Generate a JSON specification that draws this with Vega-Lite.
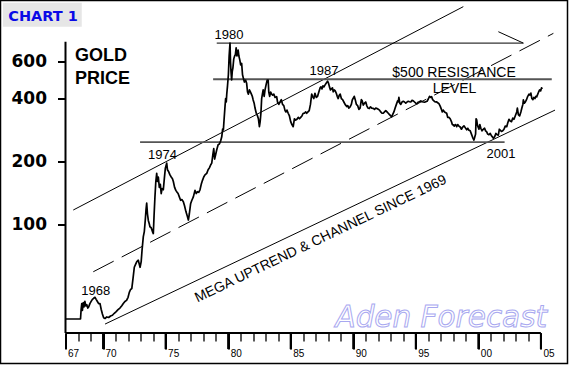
{
  "$schema": "https://vega.github.io/schema/vega-lite/v6.json",
  "width": 567,
  "height": 363,
  "autosize": {"type": "none"},
  "padding": {"left": 0.5, "top": 0.5, "right": 2.5, "bottom": 3.5},
  "background": "white",
  "config": {"view": {"stroke": "black", "strokeWidth": 1.5}, "axis": {"grid": false, "ticks": true}},
  "datasets": {
    "gold": [
      {"year":1967.00,"price":35},{"year":1967.60,"price":35},{"year":1968.20,"price":35},{"year":1968.25,"price":39},{"year":1968.30,"price":41.5},{"year":1968.35,"price":38.5},{"year":1968.42,"price":42},{"year":1968.48,"price":40},{"year":1968.55,"price":42.5},{"year":1968.62,"price":40.5},{"year":1968.70,"price":41},{"year":1968.78,"price":39.5},{"year":1968.85,"price":40},{"year":1968.95,"price":41.5},
      {"year":1969.05,"price":42.5},{"year":1969.15,"price":43.5},{"year":1969.25,"price":44},{"year":1969.36,"price":44.5},{"year":1969.45,"price":43.5},{"year":1969.55,"price":42.5},{"year":1969.65,"price":41.5},{"year":1969.76,"price":41.5},{"year":1969.85,"price":39},{"year":1969.95,"price":37},
      {"year":1970.05,"price":35.5},{"year":1970.16,"price":35.2},{"year":1970.30,"price":35.8},{"year":1970.45,"price":35.6},{"year":1970.60,"price":36.2},{"year":1970.75,"price":36.5},{"year":1970.90,"price":37.3},
      {"year":1971.05,"price":38},{"year":1971.20,"price":38.8},{"year":1971.35,"price":39.5},{"year":1971.50,"price":40.5},{"year":1971.62,"price":41.5},{"year":1971.75,"price":42.5},{"year":1971.88,"price":43},
      {"year":1972.00,"price":44.5},{"year":1972.10,"price":47},{"year":1972.20,"price":48.5},{"year":1972.30,"price":49},{"year":1972.40,"price":55},{"year":1972.50,"price":62},{"year":1972.60,"price":64},{"year":1972.70,"price":66},{"year":1972.82,"price":67},{"year":1972.90,"price":64},{"year":1972.96,"price":62},
      {"year":1973.05,"price":66},{"year":1973.12,"price":75},{"year":1973.22,"price":87},{"year":1973.30,"price":92},{"year":1973.38,"price":105},{"year":1973.44,"price":118},{"year":1973.49,"price":126},{"year":1973.55,"price":112},{"year":1973.62,"price":104},{"year":1973.70,"price":100},{"year":1973.75,"price":97},{"year":1973.85,"price":96},{"year":1973.95,"price":92},
      {"year":1974.02,"price":90},{"year":1974.08,"price":110},{"year":1974.15,"price":135},{"year":1974.22,"price":160},{"year":1974.29,"price":175},{"year":1974.35,"price":160},{"year":1974.42,"price":168},{"year":1974.50,"price":150},{"year":1974.58,"price":155},{"year":1974.65,"price":140},{"year":1974.72,"price":148},{"year":1974.82,"price":146},{"year":1974.90,"price":165},{"year":1974.98,"price":185},
      {"year":1975.09,"price":196},{"year":1975.15,"price":182},{"year":1975.25,"price":178},{"year":1975.35,"price":172},{"year":1975.45,"price":168},{"year":1975.55,"price":165},{"year":1975.62,"price":160},{"year":1975.72,"price":150},{"year":1975.82,"price":145},{"year":1975.92,"price":142},
      {"year":1976.00,"price":140},{"year":1976.10,"price":135},{"year":1976.20,"price":130},{"year":1976.30,"price":131},{"year":1976.42,"price":128},{"year":1976.52,"price":122},{"year":1976.62,"price":115},{"year":1976.72,"price":110},{"year":1976.82,"price":104.5},{"year":1976.90,"price":112},
      {"year":1977.00,"price":125},{"year":1977.10,"price":130},{"year":1977.22,"price":135},{"year":1977.35,"price":145},{"year":1977.45,"price":140},{"year":1977.55,"price":143},{"year":1977.65,"price":142},{"year":1977.75,"price":146},{"year":1977.85,"price":155},{"year":1977.95,"price":162},
      {"year":1978.05,"price":168},{"year":1978.15,"price":172},{"year":1978.29,"price":175},{"year":1978.40,"price":182},{"year":1978.50,"price":186},{"year":1978.60,"price":192},{"year":1978.69,"price":196},{"year":1978.78,"price":215},{"year":1978.85,"price":230},{"year":1978.92,"price":205},
      {"year":1979.00,"price":215},{"year":1979.09,"price":227},{"year":1979.20,"price":240},{"year":1979.30,"price":242},{"year":1979.40,"price":250},{"year":1979.49,"price":262},{"year":1979.56,"price":285},{"year":1979.62,"price":283},{"year":1979.68,"price":320},{"year":1979.75,"price":366},{"year":1979.80,"price":400},{"year":1979.85,"price":385},{"year":1979.89,"price":420},{"year":1979.95,"price":460},
      {"year":1980.02,"price":520},{"year":1980.08,"price":640},{"year":1980.15,"price":738},{"year":1980.19,"price":600},{"year":1980.23,"price":540},{"year":1980.28,"price":491},{"year":1980.33,"price":540},{"year":1980.38,"price":560},{"year":1980.45,"price":620},{"year":1980.52,"price":640},{"year":1980.58,"price":650},{"year":1980.64,"price":700},{"year":1980.70,"price":640},{"year":1980.76,"price":660},{"year":1980.80,"price":684},{"year":1980.86,"price":640},{"year":1980.94,"price":610},
      {"year":1981.00,"price":580},{"year":1981.08,"price":590},{"year":1981.15,"price":520},{"year":1981.22,"price":500},{"year":1981.30,"price":480},{"year":1981.40,"price":490},{"year":1981.48,"price":473},{"year":1981.55,"price":430},{"year":1981.62,"price":420},{"year":1981.70,"price":440},{"year":1981.78,"price":430},{"year":1981.86,"price":420},{"year":1981.93,"price":410},
      {"year":1982.00,"price":394},{"year":1982.08,"price":380},{"year":1982.15,"price":360},{"year":1982.25,"price":340},{"year":1982.35,"price":330},{"year":1982.42,"price":320},{"year":1982.50,"price":293},{"year":1982.56,"price":310},{"year":1982.62,"price":340},{"year":1982.68,"price":400},{"year":1982.74,"price":420},{"year":1982.80,"price":440},{"year":1982.88,"price":410},{"year":1982.95,"price":440},
      {"year":1983.05,"price":470},{"year":1983.12,"price":490},{"year":1983.20,"price":491},{"year":1983.25,"price":430},{"year":1983.32,"price":410},{"year":1983.40,"price":430},{"year":1983.48,"price":420},{"year":1983.56,"price":415},{"year":1983.65,"price":420},{"year":1983.75,"price":405},{"year":1983.88,"price":408},{"year":1983.95,"price":385},
      {"year":1984.05,"price":375},{"year":1984.15,"price":385},{"year":1984.25,"price":395},{"year":1984.35,"price":375},{"year":1984.45,"price":370},{"year":1984.55,"price":350},{"year":1984.62,"price":345},{"year":1984.70,"price":352},{"year":1984.80,"price":340},{"year":1984.90,"price":330},
      {"year":1985.00,"price":310},{"year":1985.10,"price":300},{"year":1985.20,"price":293},{"year":1985.30,"price":320},{"year":1985.40,"price":315},{"year":1985.50,"price":318},{"year":1985.60,"price":325},{"year":1985.70,"price":320},{"year":1985.80,"price":325},{"year":1985.90,"price":330},
      {"year":1986.00,"price":340},{"year":1986.10,"price":340},{"year":1986.20,"price":345},{"year":1986.28,"price":340},{"year":1986.38,"price":345},{"year":1986.48,"price":350},{"year":1986.58,"price":375},{"year":1986.68,"price":420},{"year":1986.75,"price":410},{"year":1986.85,"price":400},{"year":1986.94,"price":424},
      {"year":1987.05,"price":405},{"year":1987.15,"price":410},{"year":1987.25,"price":430},{"year":1987.35,"price":450},{"year":1987.42,"price":455},{"year":1987.50,"price":445},{"year":1987.58,"price":460},{"year":1987.66,"price":455},{"year":1987.75,"price":465},{"year":1987.85,"price":475},{"year":1987.95,"price":485},
      {"year":1988.02,"price":475},{"year":1988.10,"price":455},{"year":1988.18,"price":440},{"year":1988.26,"price":445},{"year":1988.34,"price":450},{"year":1988.40,"price":431},{"year":1988.48,"price":440},{"year":1988.56,"price":435},{"year":1988.64,"price":425},{"year":1988.72,"price":410},{"year":1988.80,"price":400},{"year":1988.88,"price":415},{"year":1988.96,"price":420},
      {"year":1989.05,"price":400},{"year":1989.15,"price":395},{"year":1989.25,"price":385},{"year":1989.35,"price":375},{"year":1989.48,"price":366},{"year":1989.56,"price":370},{"year":1989.65,"price":360},{"year":1989.75,"price":365},{"year":1989.85,"price":375},{"year":1989.93,"price":395},
      {"year":1990.00,"price":401},{"year":1990.08,"price":410},{"year":1990.16,"price":395},{"year":1990.25,"price":375},{"year":1990.35,"price":370},{"year":1990.45,"price":355},{"year":1990.55,"price":360},{"year":1990.65,"price":395},{"year":1990.72,"price":390},{"year":1990.80,"price":372},{"year":1990.90,"price":380},
      {"year":1991.00,"price":385},{"year":1991.08,"price":370},{"year":1991.18,"price":360},{"year":1991.28,"price":358},{"year":1991.38,"price":365},{"year":1991.48,"price":360},{"year":1991.60,"price":359},{"year":1991.70,"price":355},{"year":1991.80,"price":360},{"year":1991.90,"price":358},
      {"year":1992.00,"price":355},{"year":1992.10,"price":352},{"year":1992.20,"price":345},{"year":1992.30,"price":340},{"year":1992.40,"price":340},{"year":1992.50,"price":345},{"year":1992.60,"price":350},{"year":1992.70,"price":345},{"year":1992.80,"price":340},{"year":1992.90,"price":335},
      {"year":1993.00,"price":330},{"year":1993.07,"price":327},{"year":1993.15,"price":335},{"year":1993.25,"price":345},{"year":1993.35,"price":360},{"year":1993.45,"price":375},{"year":1993.55,"price":390},{"year":1993.60,"price":386},{"year":1993.65,"price":405},{"year":1993.72,"price":380},{"year":1993.80,"price":375},{"year":1993.90,"price":385},
      {"year":1994.00,"price":388},{"year":1994.10,"price":385},{"year":1994.20,"price":380},{"year":1994.30,"price":385},{"year":1994.40,"price":388},{"year":1994.50,"price":386},{"year":1994.60,"price":385},{"year":1994.70,"price":392},{"year":1994.80,"price":390},{"year":1994.90,"price":385},
      {"year":1995.00,"price":380},{"year":1995.10,"price":378},{"year":1995.20,"price":385},{"year":1995.30,"price":386},{"year":1995.40,"price":390},{"year":1995.50,"price":386},{"year":1995.60,"price":385},{"year":1995.70,"price":384},{"year":1995.80,"price":386},{"year":1995.90,"price":388},
      {"year":1996.00,"price":398},{"year":1996.10,"price":410},{"year":1996.20,"price":405},{"year":1996.27,"price":408},{"year":1996.35,"price":395},{"year":1996.45,"price":390},{"year":1996.55,"price":385},{"year":1996.65,"price":386},{"year":1996.75,"price":382},{"year":1996.85,"price":378},{"year":1996.95,"price":368},
      {"year":1997.05,"price":355},{"year":1997.12,"price":345},{"year":1997.20,"price":352},{"year":1997.30,"price":345},{"year":1997.40,"price":342},{"year":1997.47,"price":340},{"year":1997.55,"price":325},{"year":1997.65,"price":325},{"year":1997.75,"price":320},{"year":1997.85,"price":310},{"year":1997.92,"price":300},
      {"year":1998.00,"price":299},{"year":1998.08,"price":295},{"year":1998.16,"price":300},{"year":1998.22,"price":298},{"year":1998.27,"price":293},{"year":1998.35,"price":300},{"year":1998.45,"price":295},{"year":1998.55,"price":292},{"year":1998.65,"price":285},{"year":1998.75,"price":292},{"year":1998.85,"price":296},{"year":1998.95,"price":290},
      {"year":1999.07,"price":283},{"year":1999.15,"price":288},{"year":1999.25,"price":282},{"year":1999.35,"price":280},{"year":1999.45,"price":270},{"year":1999.55,"price":260},{"year":1999.65,"price":253},{"year":1999.72,"price":262},{"year":1999.78,"price":270},{"year":1999.82,"price":320},{"year":1999.87,"price":316},{"year":1999.92,"price":300},{"year":1999.98,"price":292},
      {"year":2000.05,"price":285},{"year":2000.12,"price":300},{"year":2000.20,"price":288},{"year":2000.30,"price":280},{"year":2000.40,"price":285},{"year":2000.50,"price":288},{"year":2000.58,"price":280},{"year":2000.67,"price":277},{"year":2000.75,"price":270},{"year":2000.85,"price":268},{"year":2000.95,"price":272},
      {"year":2001.05,"price":265},{"year":2001.12,"price":262},{"year":2001.20,"price":258},{"year":2001.30,"price":262},{"year":2001.40,"price":272},{"year":2001.50,"price":268},{"year":2001.60,"price":267},{"year":2001.68,"price":285},{"year":2001.75,"price":282},{"year":2001.85,"price":278},{"year":2001.95,"price":280},
      {"year":2002.05,"price":285},{"year":2002.15,"price":295},{"year":2002.27,"price":293},{"year":2002.35,"price":305},{"year":2002.45,"price":318},{"year":2002.55,"price":312},{"year":2002.65,"price":310},{"year":2002.75,"price":322},{"year":2002.85,"price":318},{"year":2002.95,"price":330},
      {"year":2003.07,"price":345},{"year":2003.12,"price":360},{"year":2003.20,"price":335},{"year":2003.30,"price":330},{"year":2003.40,"price":345},{"year":2003.48,"price":360},{"year":2003.56,"price":375},{"year":2003.60,"price":394},{"year":2003.68,"price":380},{"year":2003.76,"price":385},{"year":2003.85,"price":395},{"year":2003.95,"price":410},
      {"year":2004.05,"price":420},{"year":2004.13,"price":416},{"year":2004.20,"price":425},{"year":2004.28,"price":400},{"year":2004.36,"price":395},{"year":2004.44,"price":405},{"year":2004.52,"price":400},{"year":2004.60,"price":410},{"year":2004.67,"price":408},{"year":2004.75,"price":420},{"year":2004.82,"price":430},{"year":2004.90,"price":440},{"year":2004.98,"price":435},{"year":2005.05,"price":450},{"year":2005.12,"price":445}
    ],
    "majorTicks": [
      {"year":1970},{"year":1975},{"year":1980},{"year":1985},{"year":1990},{"year":1995},{"year":2000},{"year":2005}
    ],
    "guides": [
      {"name":"upper","year":1967.62,"price":116.7},{"name":"upper","year":1998.8,"price":1104},
      {"name":"lower","year":1970.16,"price":33.1},{"name":"lower","year":2006.13,"price":352},
      {"name":"arrow","year":2001.6,"price":837},{"name":"arrow","year":2003.6,"price":738},
      {"name":"top","year":1979.09,"price":738},{"name":"top","year":2003.6,"price":738},
      {"name":"mid","year":1969.22,"price":59},{"name":"mid","year":2006.0,"price":822},
      {"name":"res500","year":1978.8,"price":495},{"name":"res500","year":2005.87,"price":495},
      {"name":"support","year":1972.96,"price":247},{"name":"support","year":2002.1,"price":247}
    ],
    "notes": [
      {"kind":"year","label":"1968","year":1969.42,"price":45.4},
      {"kind":"year","label":"1974","year":1974.75,"price":205},
      {"kind":"year","label":"1980","year":1980.07,"price":776},
      {"kind":"year","label":"1987","year":1987.66,"price":519},
      {"kind":"year","label":"2001","year":2001.81,"price":207},
      {"kind":"res","label":"$500 RESISTANCE","year":1998.06,"price":510},
      {"kind":"res","label":"LEVEL","year":1998.1,"price":424},
      {"kind":"title","label":"GOLD","year":1967.76,"price":605},
      {"kind":"title","label":"PRICE","year":1967.76,"price":470},
      {"kind":"mega","label":"MEGA UPTREND & CHANNEL SINCE 1969","year":1987.54,"price":81.4},
      {"kind":"brand","label":"Aden Forecast","year":2005.5,"price":32.1},
      {"kind":"chart","label":"CHART 1","year":1962.43,"price":945}
    ]
  },
  "layer": [
    {
      "data": {"values": [{}]},
      "mark": {"type": "rect", "color": "#e6e6e6"},
      "encoding": {
        "x": {"datum": 1962.0, "type": "quantitative", "scale": {"domain": [1961.804, 2007.128], "nice": false, "zero": false}, "axis": null},
        "x2": {"datum": 1968.3},
        "y": {"datum": 1153, "type": "quantitative", "scale": {"type": "log", "domain": [21.41, 1181.7], "nice": false}, "axis": null},
        "y2": {"datum": 884.7}
      }
    },
    {
      "data": {"name": "guides"},
      "transform": [{"filter": "datum.name == 'upper' || datum.name == 'lower' || datum.name == 'arrow' || datum.name == 'top'"}],
      "mark": {"type": "line", "color": "black", "strokeWidth": 1},
      "encoding": {
        "x": {"field": "year", "type": "quantitative", "scale": {"domain": [1961.804, 2007.128], "nice": false, "zero": false},
          "axis": {"orient": "bottom", "offset": -30.5, "values": [1967,1968,1969,1970,1971,1972,1973,1974,1975,1976,1977,1978,1979,1980,1981,1982,1983,1984,1985,1986,1987,1988,1989,1990,1991,1992,1993,1994,1995,1996,1997,1998,1999,2000,2001,2002,2003,2004,2005], "domain": false, "grid": false, "ticks": true, "tickSize": 8, "tickWidth": 1.3, "tickColor": "black", "labels": false, "title": null}},
        "y": {"field": "price", "type": "quantitative", "scale": {"type": "log", "domain": [21.41, 1181.7], "nice": false}, "axis": null},
        "detail": {"field": "name"}
      }
    },
    {
      "data": {"name": "guides"},
      "transform": [{"filter": "datum.name == 'mid'"}],
      "mark": {"type": "line", "color": "black", "strokeWidth": 1, "strokeDash": [23, 9]},
      "encoding": {
        "x": {"field": "year", "type": "quantitative", "scale": {"domain": [1961.804, 2007.128], "nice": false, "zero": false}, "axis": null},
        "y": {"field": "price", "type": "quantitative", "scale": {"type": "log", "domain": [21.41, 1181.7], "nice": false}, "axis": null}
      }
    },
    {
      "data": {"name": "guides"},
      "transform": [{"filter": "datum.name == 'res500' || datum.name == 'support'"}],
      "mark": {"type": "line", "color": "#555555", "strokeWidth": 1.8},
      "encoding": {
        "x": {"field": "year", "type": "quantitative", "scale": {"domain": [1961.804, 2007.128], "nice": false, "zero": false}, "axis": null},
        "y": {"field": "price", "type": "quantitative", "scale": {"type": "log", "domain": [21.41, 1181.7], "nice": false}, "axis": null},
        "detail": {"field": "name"}
      }
    },
    {
      "data": {"name": "majorTicks"},
      "mark": {"type": "rule", "color": "black", "strokeWidth": 2},
      "encoding": {
        "x": {"field": "year", "type": "quantitative", "scale": {"domain": [1961.804, 2007.128], "nice": false, "zero": false}, "axis": null},
        "y": {"datum": 30, "type": "quantitative", "scale": {"type": "log", "domain": [21.41, 1181.7], "nice": false}, "axis": null},
        "y2": {"datum": 25.1}
      }
    },
    {
      "data": {"values": [{}]},
      "mark": {"type": "rule", "color": "black", "strokeWidth": 2},
      "encoding": {
        "x": {"datum": 1967, "type": "quantitative", "scale": {"domain": [1961.804, 2007.128], "nice": false, "zero": false}, "axis": null},
        "x2": {"datum": 2005},
        "y": {"datum": 30, "type": "quantitative", "scale": {"type": "log", "domain": [21.41, 1181.7], "nice": false}, "axis": null}
      }
    },
    {
      "data": {"values": [{}]},
      "mark": {"type": "rule", "color": "black", "strokeWidth": 2},
      "encoding": {
        "x": {"datum": 1967, "type": "quantitative", "scale": {"domain": [1961.804, 2007.128], "nice": false, "zero": false}, "axis": null},
        "y": {"datum": 30, "type": "quantitative", "scale": {"type": "log", "domain": [21.41, 1181.7], "nice": false},
          "axis": {"orient": "left", "offset": -65, "values": [100, 200, 400, 600], "format": "d", "domain": false, "grid": false, "tickSize": 8, "tickWidth": 2, "tickColor": "black", "labelFont": "DejaVu Sans", "labelFontWeight": "bold", "labelFontSize": 17, "labelColor": "black", "labelPadding": 11, "labelOverlap": false, "labelBound": false, "labelFlush": false, "title": null}},
        "y2": {"datum": 750}
      }
    },
    {
      "data": {"name": "gold"},
      "mark": {"type": "line", "color": "black", "strokeWidth": 1.7, "strokeJoin": "round"},
      "encoding": {
        "x": {"field": "year", "type": "quantitative", "scale": {"domain": [1961.804, 2007.128], "nice": false, "zero": false},
          "axis": {"orient": "bottom", "offset": -30.5, "values": [1967,1970,1975,1980,1985,1990,1995,2000,2005], "domain": false, "grid": false, "ticks": true, "tickSize": 16, "tickWidth": 2, "tickColor": "black",
            "labelExpr": "substring(toString(datum.value), 2, 4)", "labelAlign": "left", "labelBaseline": "top", "labelOffset": 2, "labelPadding": -1,
            "labelFont": "Liberation Sans", "labelFontSize": 10, "labelColor": "black", "labelOverlap": false, "labelFlush": false, "labelBound": false, "title": null}},
        "y": {"field": "price", "type": "quantitative", "scale": {"type": "log", "domain": [21.41, 1181.7], "nice": false}, "axis": null}
      }
    },
    {
      "data": {"name": "notes"},
      "transform": [{"filter": "datum.kind == 'year'"}],
      "mark": {"type": "text", "font": "Liberation Sans", "fontSize": 13, "align": "center", "baseline": "alphabetic", "color": "black"},
      "encoding": {
        "x": {"field": "year", "type": "quantitative", "scale": {"domain": [1961.804, 2007.128], "nice": false, "zero": false}, "axis": null},
        "y": {"field": "price", "type": "quantitative", "scale": {"type": "log", "domain": [21.41, 1181.7], "nice": false}, "axis": null},
        "text": {"field": "label"}
      }
    },
    {
      "data": {"name": "notes"},
      "transform": [{"filter": "datum.kind == 'res'"}],
      "mark": {"type": "text", "font": "Liberation Sans", "fontSize": 14, "align": "center", "baseline": "alphabetic", "color": "black"},
      "encoding": {
        "x": {"field": "year", "type": "quantitative", "scale": {"domain": [1961.804, 2007.128], "nice": false, "zero": false}, "axis": null},
        "y": {"field": "price", "type": "quantitative", "scale": {"type": "log", "domain": [21.41, 1181.7], "nice": false}, "axis": null},
        "text": {"field": "label"}
      }
    },
    {
      "data": {"name": "notes"},
      "transform": [{"filter": "datum.kind == 'title'"}],
      "mark": {"type": "text", "font": "Liberation Sans", "fontSize": 18, "fontWeight": "bold", "align": "left", "baseline": "alphabetic", "color": "black"},
      "encoding": {
        "x": {"field": "year", "type": "quantitative", "scale": {"domain": [1961.804, 2007.128], "nice": false, "zero": false}, "axis": null},
        "y": {"field": "price", "type": "quantitative", "scale": {"type": "log", "domain": [21.41, 1181.7], "nice": false}, "axis": null},
        "text": {"field": "label"}
      }
    },
    {
      "data": {"name": "notes"},
      "transform": [{"filter": "datum.kind == 'mega'"}],
      "mark": {"type": "text", "font": "Liberation Sans", "fontSize": 14, "align": "center", "baseline": "alphabetic", "angle": 334.4, "color": "black"},
      "encoding": {
        "x": {"field": "year", "type": "quantitative", "scale": {"domain": [1961.804, 2007.128], "nice": false, "zero": false}, "axis": null},
        "y": {"field": "price", "type": "quantitative", "scale": {"type": "log", "domain": [21.41, 1181.7], "nice": false}, "axis": null},
        "text": {"field": "label"}
      }
    },
    {
      "data": {"name": "notes"},
      "transform": [{"filter": "datum.kind == 'brand'"}],
      "mark": {"type": "text", "font": "DejaVu Sans", "fontSize": 29.5, "fontStyle": "italic", "align": "right", "baseline": "alphabetic", "fill": "white", "stroke": "#a8a8f0", "strokeWidth": 1},
      "encoding": {
        "x": {"field": "year", "type": "quantitative", "scale": {"domain": [1961.804, 2007.128], "nice": false, "zero": false}, "axis": null},
        "y": {"field": "price", "type": "quantitative", "scale": {"type": "log", "domain": [21.41, 1181.7], "nice": false}, "axis": null},
        "text": {"field": "label"}
      }
    },
    {
      "data": {"name": "notes"},
      "transform": [{"filter": "datum.kind == 'chart'"}],
      "mark": {"type": "text", "font": "DejaVu Sans", "fontSize": 14.5, "fontWeight": "bold", "align": "left", "baseline": "alphabetic", "color": "#0a0ae6"},
      "encoding": {
        "x": {"field": "year", "type": "quantitative", "scale": {"domain": [1961.804, 2007.128], "nice": false, "zero": false}, "axis": null},
        "y": {"field": "price", "type": "quantitative", "scale": {"type": "log", "domain": [21.41, 1181.7], "nice": false}, "axis": null},
        "text": {"field": "label"}
      }
    }
  ],
  "resolve": {"axis": {"x": "independent", "y": "independent"}}
}
